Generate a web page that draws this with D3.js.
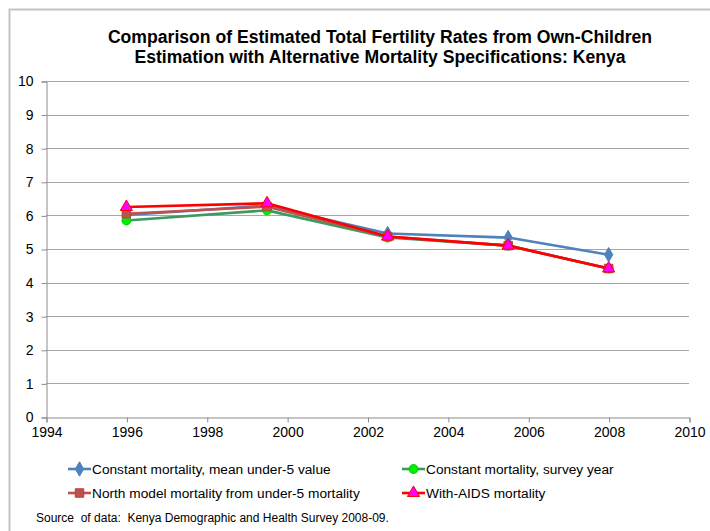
<!DOCTYPE html>
<html>
<head>
<meta charset="utf-8">
<script src="https://cdn.jsdelivr.net/npm/d3@7"></script>
<style>
  html, body { margin: 0; padding: 0; background: #fff; }
  svg { display: block; font-family: "Liberation Sans", Arial, sans-serif; }
</style>
</head>
<body>
<svg id="chart" width="710" height="531"></svg>
<script>
// Survey reference years for each estimate
const years = [1996, 1999.5, 2002.5, 2005.5, 2008];

// Total fertility rate estimates under each mortality specification
const constMeanU5   = [6.01, 6.29, 5.46, 5.34, 4.83];
const constSurvey   = [5.85, 6.15, 5.34, 5.10, 4.42];
const northModel    = [6.05, 6.26, 5.37, 5.10, 4.42];
const withAids      = [6.25, 6.36, 5.37, 5.10, 4.42];

const seriesNames = [
  "Constant mortality, mean under-5 value",
  "Constant mortality, survey year",
  "North model mortality from under-5 mortality",
  "With-AIDS mortality"
];

const xTicks = [1994, 1996, 1998, 2000, 2002, 2004, 2006, 2008, 2010];
const yTicks = [0, 1, 2, 3, 4, 5, 6, 7, 8, 9, 10];

const titleLines = [
  "Comparison of Estimated Total Fertility Rates from Own-Children",
  "Estimation with Alternative Mortality Specifications: Kenya"
];
const sourceNote = "Source  of data:  Kenya Demographic and Health Survey 2008-09.";

const styles = [
  { line: "#4F81BD", fill: "#4F81BD", stroke: "#4F81BD", shape: "diamond" },
  { line: "#3C9A5F", fill: "#00EE00", stroke: "#00CC00", shape: "circle" },
  { line: "#C0504D", fill: "#C0504D", stroke: "#B04540", shape: "square" },
  { line: "#FF0000", fill: "#FF00FF", stroke: "#FF0000", shape: "triangle" }
];

const seriesValues = [constMeanU5, constSurvey, northModel, withAids];

const svg = d3.select("#chart");

// Chart frame
svg.append("rect")
  .attr("x", 9.5).attr("y", 9.5)
  .attr("width", 740).attr("height", 560)
  .attr("fill", "none")
  .attr("stroke", "#c4c4c4")
  .attr("stroke-width", 2);

const plotLeft = 46, plotRight = 689, plotTop = 81, plotBottom = 417;

const x = d3.scaleLinear().domain([1994, 2010]).range([plotLeft, plotRight]);
const y = d3.scaleLinear().domain([0, 10]).range([plotBottom, plotTop]);

// Title
const title = svg.append("text")
  .attr("text-anchor", "middle")
  .attr("font-size", 17.6)
  .attr("font-weight", "bold")
  .attr("fill", "#000");
titleLines.forEach((t, i) => {
  title.append("tspan").attr("x", 380).attr("y", 43 + i * 20).text(t);
});

// Horizontal gridlines
svg.append("g")
  .selectAll("line")
  .data(yTicks.filter(d => d > 0))
  .join("line")
  .attr("x1", plotLeft).attr("x2", plotRight)
  .attr("y1", d => Math.round(y(d)) + 0.5)
  .attr("y2", d => Math.round(y(d)) + 0.5)
  .attr("stroke", "#a6a6a6")
  .attr("stroke-width", 1);

// Y axis
const yAxis = svg.append("g")
  .attr("transform", `translate(${plotLeft + 0.5},0.5)`)
  .call(d3.axisLeft(y).tickValues(yTicks).tickSize(5).tickPadding(8).tickFormat(d3.format("d")));
yAxis.select(".domain").attr("stroke", "#8c8c8c");
yAxis.selectAll(".tick line").attr("stroke", "#8c8c8c");
yAxis.selectAll("text")
  .attr("font-size", 14)
  .attr("font-family", "Liberation Sans, Arial, sans-serif")
  .attr("fill", "#000");

// X axis
const xAxis = svg.append("g")
  .attr("transform", `translate(0.5,${plotBottom + 0.5})`)
  .call(d3.axisBottom(x).tickValues(xTicks).tickSize(5).tickPadding(5).tickFormat(d3.format("d")));
xAxis.select(".domain").attr("stroke", "#8c8c8c");
xAxis.selectAll(".tick line").attr("stroke", "#8c8c8c");
xAxis.selectAll("text")
  .attr("font-size", 14)
  .attr("font-family", "Liberation Sans, Arial, sans-serif")
  .attr("fill", "#000");

// Marker shapes
const symbolFor = {
  diamond: d3.symbol().type(d3.symbolDiamond).size(60),
  circle: d3.symbol().type(d3.symbolCircle).size(62),
  square: d3.symbol().type(d3.symbolSquare).size(72),
  triangle: d3.symbol().type(d3.symbolTriangle).size(64)
};

const line = d3.line().x(d => x(d[0])).y(d => y(d[1]));

// Series lines and markers
seriesValues.forEach((vals, i) => {
  const st = styles[i];
  const pts = years.map((yr, j) => [yr, vals[j]]);
  const g = svg.append("g");
  g.append("path")
    .datum(pts)
    .attr("d", line)
    .attr("fill", "none")
    .attr("stroke", st.line)
    .attr("stroke-width", 2.6)
    .attr("stroke-linejoin", "round");
  g.selectAll("path.m")
    .data(pts)
    .join("path")
    .attr("class", "m")
    .attr("transform", d => `translate(${x(d[0])},${y(d[1])})`)
    .attr("d", symbolFor[st.shape])
    .attr("fill", st.fill)
    .attr("stroke", st.stroke)
    .attr("stroke-width", 1);
});

// Legend
const legendPos = [
  { x: 68, y: 469 },
  { x: 402, y: 469 },
  { x: 68, y: 493 },
  { x: 402, y: 493 }
];
seriesNames.forEach((name, i) => {
  const st = styles[i];
  const p = legendPos[i];
  const g = svg.append("g").attr("transform", `translate(${p.x},${p.y})`);
  g.append("line")
    .attr("x1", 0).attr("x2", 23)
    .attr("y1", 0).attr("y2", 0)
    .attr("stroke", st.line)
    .attr("stroke-width", 2.6);
  g.append("path")
    .attr("transform", "translate(11.5,0)")
    .attr("d", symbolFor[st.shape])
    .attr("fill", st.fill)
    .attr("stroke", st.stroke)
    .attr("stroke-width", 1);
  g.append("text")
    .attr("x", 24)
    .attr("y", 5)
    .attr("font-size", 13.7)
    .attr("fill", "#000")
    .text(name);
});

// Source note
svg.append("text")
  .attr("x", 36)
  .attr("y", 522)
  .attr("font-size", 12)
  .attr("fill", "#000")
  .style("white-space", "pre")
  .text(sourceNote);
</script>
</body>
</html>
